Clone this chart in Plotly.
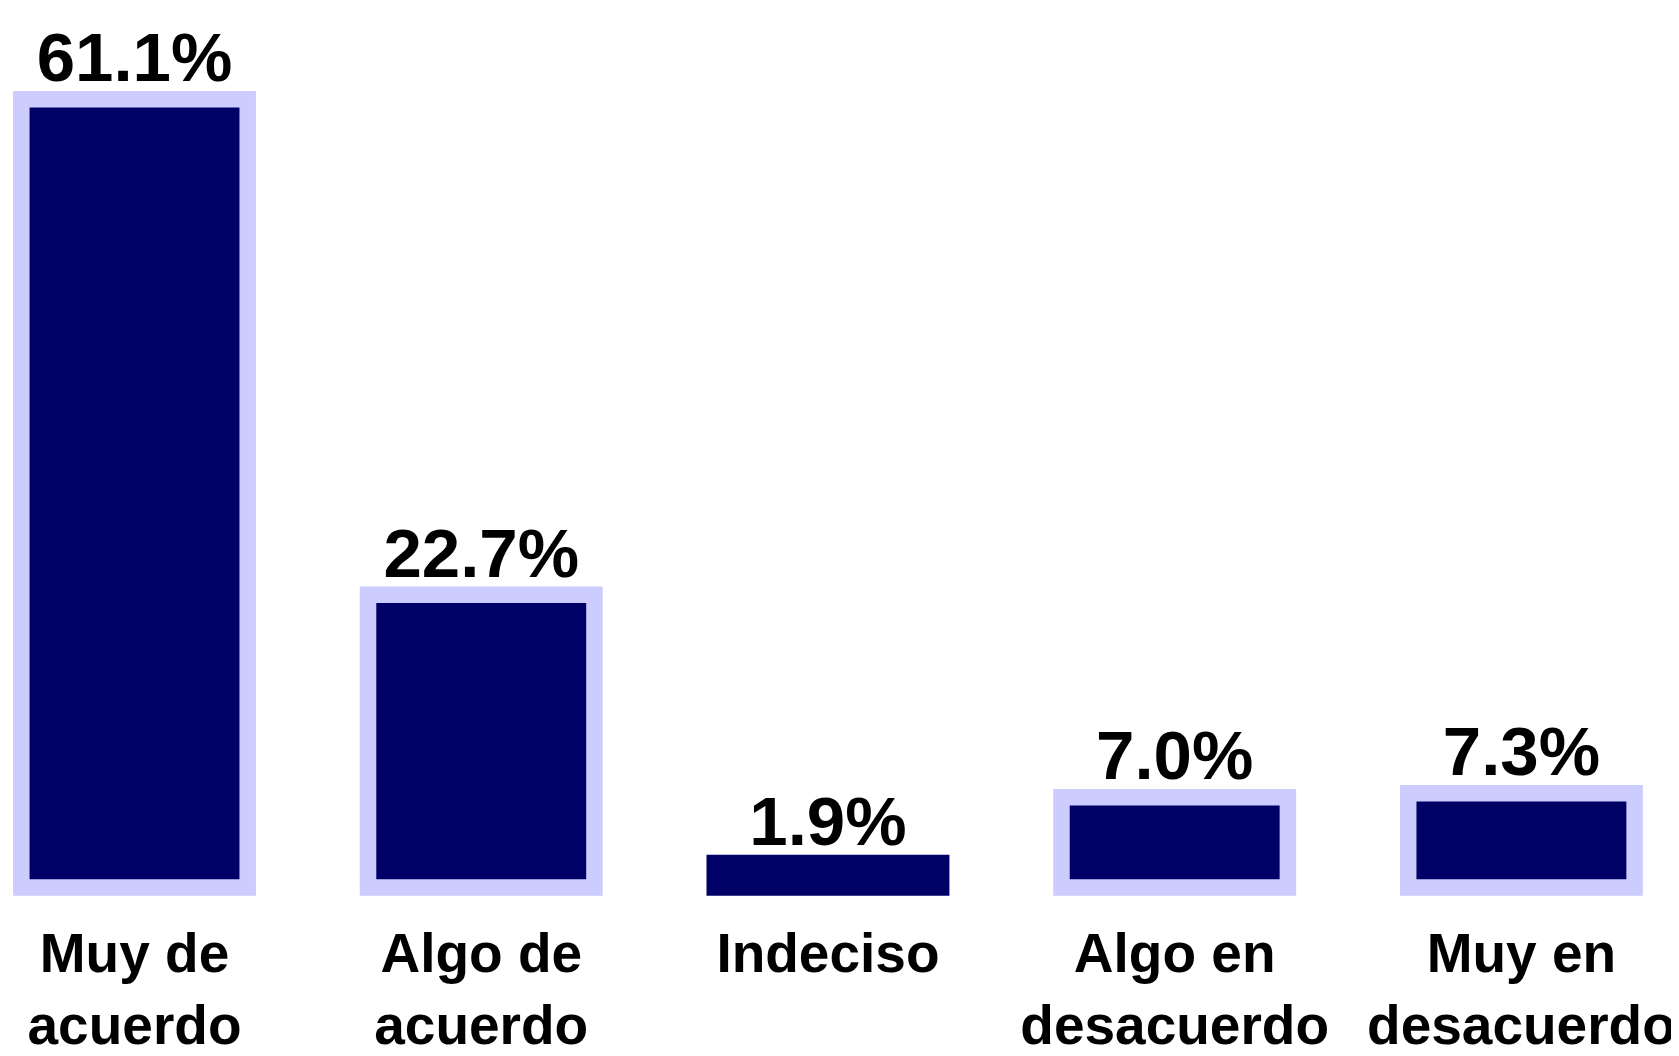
import plotly.graph_objects as go

categories = ["Muy de<br>acuerdo", "Algo de<br>acuerdo", "Indeciso",
              "Algo en<br>desacuerdo", "Muy en<br>desacuerdo"]
values = [61.1, 22.7, 1.9, 7.0, 7.3]
labels = ["61.1%", "22.7%", "1.9%", "7.0%", "7.3%"]

navy = "#000066"
lavender = "#CCCCFF"
border_colors = [lavender, lavender, navy, lavender, lavender]

fig = go.Figure(
    go.Bar(
        x=categories,
        y=values,
        text=labels,
        textposition="outside",
        cliponaxis=False,
        constraintext="none",
        textfont=dict(family="Liberation Sans, Arial, sans-serif", size=69,
                      color="black", weight="bold"),
        marker=dict(color=navy, line=dict(color=border_colors, width=16.5)),
        hoverinfo="skip",
    )
)

fig.update_layout(
    width=1679,
    height=1056,
    margin=dict(l=0, r=0, t=0, b=156),
    paper_bgcolor="white",
    plot_bgcolor="white",
    bargap=0.347,
    showlegend=False,
    xaxis=dict(
        range=[-0.3649, 4.4776],
        showgrid=False,
        showline=False,
        zeroline=False,
        ticks="",
        ticklabelstandoff=8,
        tickfont=dict(family="Liberation Sans, Arial, sans-serif", size=55,
                      color="black", weight="bold"),
    ),
    yaxis=dict(
        range=[-1.59, 68.18],
        visible=False,
        showgrid=False,
        zeroline=False,
    ),
)

fig.write_html("out.html")
